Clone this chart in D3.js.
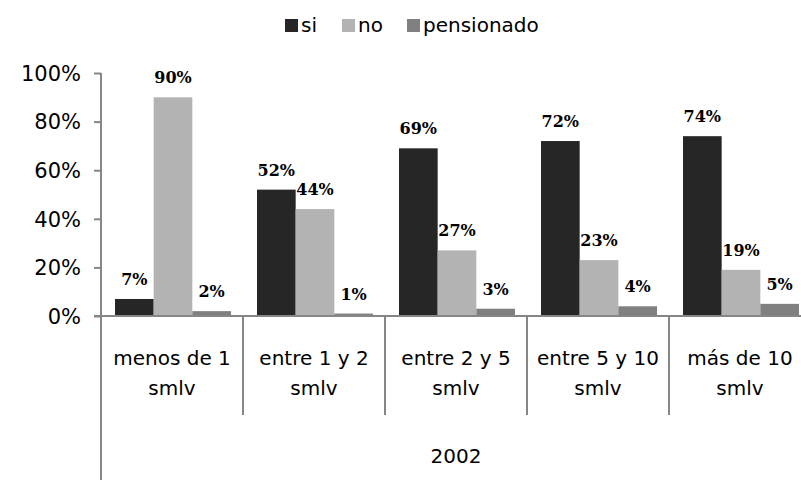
<!DOCTYPE html>
<html>
<head>
<meta charset="utf-8">
<script src="https://cdn.jsdelivr.net/npm/d3@7"></script>
<style>
  body { margin: 0; background: #fff; }
  svg text { font-family: "DejaVu Sans", Verdana, sans-serif; fill: #000; }
  .valueLabel { font-family: "DejaVu Serif", serif; font-weight: bold; }
</style>
</head>
<body>
<div id="chart"></div>
<script>
// data
const categories = [["menos de 1", "smlv"], ["entre 1 y 2", "smlv"], ["entre 2 y 5", "smlv"], ["entre 5 y 10", "smlv"], ["más de 10", "smlv"]];
const seriesNames = ["si", "no", "pensionado"];
const siValues = [7, 52, 69, 72, 74];
const noValues = [90, 44, 27, 23, 19];
const pensionadoValues = [2, 1, 3, 4, 5];
const yTicks = [0, 20, 40, 60, 80, 100];
const groupLabel = "2002";

const colors = { si: "#262626", no: "#b3b3b3", pensionado: "#808080" };
const axisColor = "#868686";

const w = 801;
const h = 480;
const plotLeft = 101, plotRight = 811, plotTop = 73, zero = 316;

const svg = d3.select("#chart")
      .append("svg")
      .attr("width", w)
      .attr("height", h);

const x0 = d3.scaleBand()
      .domain(d3.range(categories.length))
      .range([plotLeft, plotRight]);

const x1 = d3.scaleBand()
      .domain(seriesNames)
      .range([14, x0.bandwidth() - 12]);

const y = d3.scaleLinear()
      .domain([0, 100])
      .range([zero, plotTop]);

// rows for bars
const rows = [];
categories.forEach((c, i) => {
      rows.push({ cat: i, s: "si", v: siValues[i] });
      rows.push({ cat: i, s: "no", v: noValues[i] });
      rows.push({ cat: i, s: "pensionado", v: pensionadoValues[i] });
});

// bars
svg.selectAll("rect.bar")
      .data(rows)
      .enter()
      .append("rect")
      .attr("class", "bar")
      .attr("x", (d) => x0(d.cat) + x1(d.s))
      .attr("y", (d) => y(d.v))
      .attr("width", x1.bandwidth())
      .attr("height", (d) => zero - y(d.v))
      .style("fill", (d) => colors[d.s]);

// value labels
svg.selectAll("text.valueLabel")
      .data(rows)
      .enter()
      .append("text")
      .attr("class", "valueLabel")
      .attr("x", (d) => x0(d.cat) + x1(d.s) + x1.bandwidth() / 2)
      .attr("y", (d) => y(d.v) - 14)
      .attr("text-anchor", "middle")
      .style("font-size", "16px")
      .text((d) => d.v + "%");

// y axis
const yAxis = svg.append("g")
      .attr("transform", `translate(${plotLeft},0)`)
      .call(d3.axisLeft(y).tickValues(yTicks).tickFormat((d) => d + "%").tickSize(7).tickPadding(13));
yAxis.select(".domain").remove();
yAxis.selectAll("line").attr("stroke", axisColor).attr("stroke-width", 2);
yAxis.selectAll("text").style("font-size", "21px").attr("dy", "0.35em").style("font-family", "DejaVu Sans");

// vertical axis line runs to the bottom
svg.append("line")
      .attr("x1", plotLeft).attr("x2", plotLeft)
      .attr("y1", plotTop).attr("y2", h)
      .attr("stroke", axisColor).attr("stroke-width", 2);

// baseline
svg.append("line")
      .attr("x1", plotLeft - 7).attr("x2", w)
      .attr("y1", zero).attr("y2", zero)
      .attr("stroke", axisColor).attr("stroke-width", 2);

// category separators
svg.selectAll("line.sep")
      .data(d3.range(1, categories.length + 1))
      .enter()
      .append("line")
      .attr("class", "sep")
      .attr("x1", (d) => plotLeft + d * x0.step())
      .attr("x2", (d) => plotLeft + d * x0.step())
      .attr("y1", zero).attr("y2", 415)
      .attr("stroke", axisColor).attr("stroke-width", 2);

// category labels
const catLabels = svg.selectAll("text.cat")
      .data(categories)
      .enter()
      .append("text")
      .attr("class", "cat")
      .attr("text-anchor", "middle")
      .style("font-size", "20px");
catLabels.selectAll("tspan")
      .data((d, i) => d.map((t) => ({ t: t, i: i })))
      .enter()
      .append("tspan")
      .attr("x", (d) => x0(d.i) + x0.bandwidth() / 2)
      .attr("y", (d, j) => 365 + j * 30)
      .text((d) => d.t);

svg.append("text")
      .attr("x", (plotLeft + plotRight) / 2)
      .attr("y", 463)
      .attr("text-anchor", "middle")
      .style("font-size", "20px")
      .text(groupLabel);

// legend
const legendX = [285, 342, 407];
const legend = svg.selectAll("g.legend")
      .data(seriesNames)
      .enter()
      .append("g")
      .attr("class", "legend")
      .attr("transform", (d, i) => `translate(${legendX[i]},0)`);
legend.append("rect")
      .attr("x", 0).attr("y", 19)
      .attr("width", 13).attr("height", 13)
      .style("fill", (d) => colors[d]);
legend.append("text")
      .attr("x", 16).attr("y", 32)
      .style("font-size", "20px")
      .text((d) => d);
</script>
</body>
</html>
